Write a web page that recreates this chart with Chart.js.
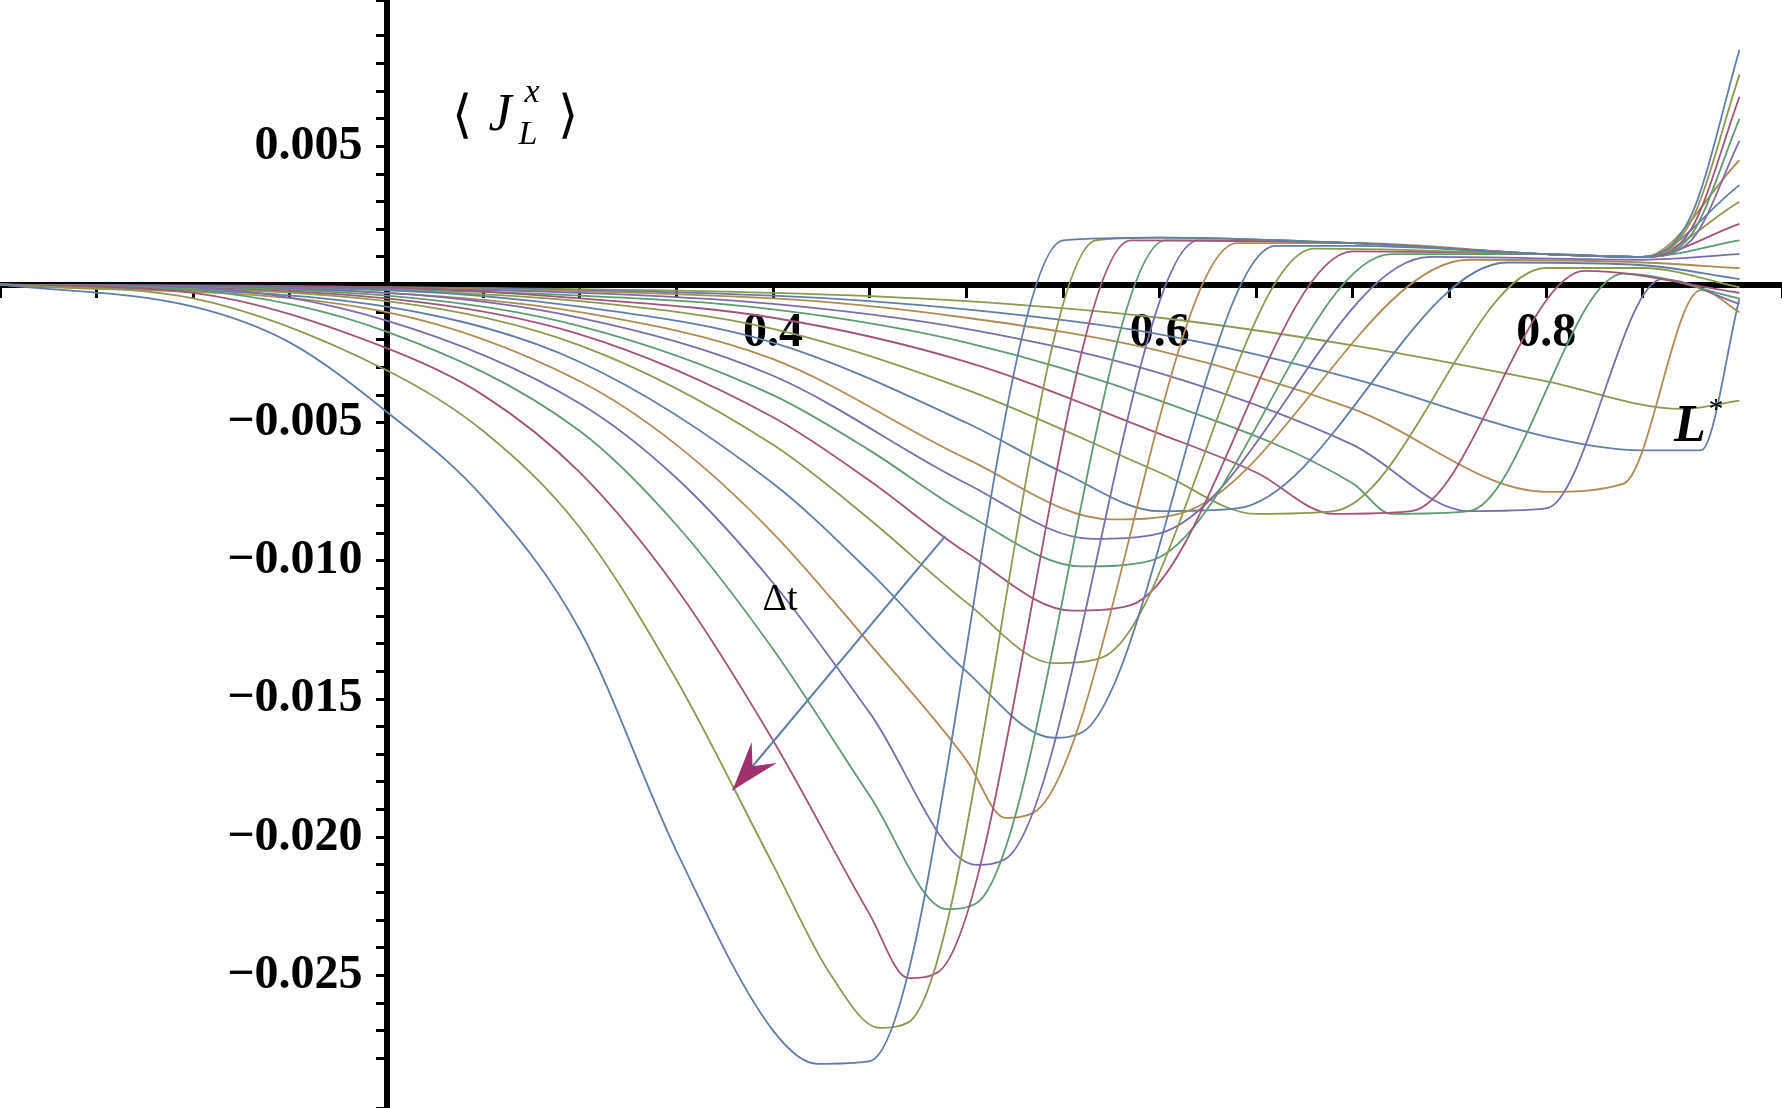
<!DOCTYPE html>
<html>
<head>
<meta charset="utf-8">
<script src="https://cdn.jsdelivr.net/npm/chart.js@4"></script>
<style>
  html, body { margin: 0; padding: 0; background: #fff; }
  #wrap { width: 1782px; height: 1108px; }
</style>
</head>
<body>
<div id="wrap"><canvas id="myChart"></canvas></div>
<script>
// one curve per time step, [L*, <J_L^x>] pairs
const curve0 = [[0,0],[0.1,-0.0008],[0.15,-0.0021],[0.2,-0.0046],[0.25,-0.0077],[0.3,-0.0125],[0.35,-0.0205],[0.4,-0.0270],[0.423,-0.0282],[0.45,-0.0281],[0.55,0.0016],[0.6,0.0017],[0.7,0.0015],[0.8,0.0011],[0.85,0.0010],[0.875,0.0025],[0.9,0.0085]];
const curve1 = [[0,0],[0.1,-0.0005],[0.2,-0.0031],[0.25,-0.0053],[0.3,-0.0088],[0.35,-0.0143],[0.4,-0.0210],[0.43,-0.0250],[0.455,-0.0269],[0.47,-0.0267],[0.567,0.0016],[0.6,0.0017],[0.7,0.0015],[0.8,0.0011],[0.85,0.0010],[0.875,0.0023],[0.9,0.0076]];
const curve2 = [[0,0],[0.1,-0.0003],[0.2,-0.0023],[0.25,-0.0040],[0.3,-0.0068],[0.35,-0.0110],[0.4,-0.0165],[0.45,-0.0228],[0.47,-0.0251],[0.485,-0.0249],[0.585,0.0016],[0.7,0.0015],[0.8,0.0011],[0.85,0.0010],[0.875,0.0020],[0.9,0.0068]];
const curve3 = [[0,0],[0.1,-0.0002],[0.2,-0.0017],[0.3,-0.0053],[0.35,-0.0087],[0.4,-0.0132],[0.45,-0.0185],[0.49,-0.0226],[0.505,-0.0224],[0.603,0.0016],[0.7,0.0015],[0.8,0.0011],[0.85,0.0010],[0.875,0.0018],[0.9,0.0060]];
const curve4 = [[0,0],[0.1,-0.0001],[0.2,-0.0013],[0.3,-0.0043],[0.35,-0.0070],[0.4,-0.0108],[0.45,-0.0155],[0.505,-0.0210],[0.52,-0.0208],[0.62,0.0016],[0.7,0.0015],[0.8,0.0011],[0.85,0.0010],[0.875,0.0016],[0.9,0.0052]];
const curve5 = [[0,0],[0.2,-0.0010],[0.3,-0.0035],[0.35,-0.0058],[0.4,-0.0090],[0.45,-0.0130],[0.5,-0.0172],[0.52,-0.0193],[0.535,-0.0191],[0.64,0.0015],[0.7,0.0015],[0.8,0.0011],[0.85,0.0010],[0.9,0.0045]];
const curve6 = [[0,0],[0.2,-0.0008],[0.3,-0.0028],[0.4,-0.0072],[0.45,-0.0104],[0.5,-0.0140],[0.545,-0.0164],[0.56,-0.0162],[0.66,0.0014],[0.7,0.0014],[0.8,0.0011],[0.85,0.0010],[0.9,0.0036]];
const curve7 = [[0,0],[0.2,-0.0006],[0.3,-0.0022],[0.4,-0.0058],[0.45,-0.0085],[0.5,-0.0115],[0.545,-0.0137],[0.57,-0.0135],[0.68,0.0013],[0.8,0.0011],[0.85,0.0010],[0.9,0.0030]];
const curve8 = [[0,0],[0.2,-0.0005],[0.3,-0.0018],[0.4,-0.0048],[0.45,-0.0071],[0.5,-0.0097],[0.555,-0.0118],[0.585,-0.0116],[0.70,0.0012],[0.8,0.0011],[0.85,0.0010],[0.9,0.0022]];
const curve9 = [[0,0],[0.2,-0.0004],[0.3,-0.0015],[0.4,-0.0040],[0.45,-0.0060],[0.5,-0.0083],[0.56,-0.0102],[0.595,-0.0100],[0.72,0.0011],[0.8,0.0011],[0.85,0.0010],[0.9,0.0016]];
const curve10 = [[0,0],[0.2,-0.0003],[0.3,-0.0012],[0.4,-0.0033],[0.5,-0.0072],[0.565,-0.0092],[0.6,-0.0090],[0.74,0.0010],[0.85,0.0009],[0.9,0.0011]];
const curve11 = [[0,0],[0.2,-0.0003],[0.3,-0.0010],[0.4,-0.0027],[0.5,-0.0063],[0.575,-0.0085],[0.61,-0.0083],[0.76,0.0009],[0.85,0.0008],[0.9,0.0006]];
const curve12 = [[0,0],[0.2,-0.0002],[0.3,-0.0008],[0.4,-0.0021],[0.5,-0.0050],[0.55,-0.0068],[0.6,-0.0082],[0.64,-0.0081],[0.78,0.0008],[0.85,0.0007],[0.9,0.0002]];
const curve13 = [[0,0],[0.2,-0.0002],[0.3,-0.0006],[0.4,-0.0016],[0.5,-0.0038],[0.6,-0.0068],[0.65,-0.0083],[0.69,-0.0082],[0.80,0.0006],[0.85,0.0006],[0.9,-0.0001]];
const curve14 = [[0,0],[0.2,-0.0001],[0.3,-0.0005],[0.4,-0.0012],[0.5,-0.0028],[0.6,-0.0054],[0.65,-0.0068],[0.69,-0.0083],[0.73,-0.0082],[0.82,0.0005],[0.9,-0.0003]];
const curve15 = [[0,0],[0.3,-0.0004],[0.4,-0.0009],[0.5,-0.0021],[0.6,-0.0042],[0.7,-0.0072],[0.72,-0.0083],[0.76,-0.0082],[0.84,0.0004],[0.9,-0.0005]];
const curve16 = [[0,0],[0.3,-0.0003],[0.4,-0.0007],[0.5,-0.0016],[0.6,-0.0032],[0.7,-0.0058],[0.76,-0.0082],[0.8,-0.0081],[0.86,0.0002],[0.9,-0.0007]];
const curve17 = [[0,0],[0.4,-0.0005],[0.5,-0.0012],[0.6,-0.0024],[0.7,-0.0045],[0.8,-0.0075],[0.84,-0.0072],[0.88,-0.0002],[0.9,-0.0010]];
const curve18 = [[0,0],[0.4,-0.0004],[0.5,-0.0009],[0.6,-0.0018],[0.7,-0.0034],[0.8,-0.0055],[0.85,-0.0060],[0.88,-0.0060],[0.9,-0.0005]];
const curve19 = [[0,0],[0.4,-0.0003],[0.5,-0.0006],[0.6,-0.0012],[0.7,-0.0022],[0.8,-0.0035],[0.87,-0.0045],[0.9,-0.0042]];

const curves = [curve0, curve1, curve2, curve3, curve4, curve5, curve6, curve7, curve8, curve9,
  curve10, curve11, curve12, curve13, curve14, curve15, curve16, curve17, curve18, curve19];

const xLabels = [0.4, 0.6, 0.8];
const yLabels = [0.005, -0.005, -0.010, -0.015, -0.020, -0.025];

// arrow marked Δt: tail and head in data units
const arrowTail = [0.489, -0.0091];
const arrowHead = [0.379, -0.0183];

const colors = ["#5f7fa8", "#8c9a50", "#a2557a", "#5e9c70", "#7c6cae", "#b08c52"];

const datasets = curves.map(function (c, i) {
  return {
    data: c.map(function (p) { return { x: p[0], y: p[1] }; }),
    borderColor: colors[i % colors.length],
    borderWidth: 1.8,
    pointRadius: 0,
    showLine: true,
    cubicInterpolationMode: "monotone",
    fill: false
  };
});

const labelFont = { family: "Liberation Serif", size: 48, weight: "bold" };

const annot = {
  id: "annot",
  afterDatasetsDraw(chart) {
    const ctx = chart.ctx;
    const xs = chart.scales.x, ys = chart.scales.y;
    const tx = xs.getPixelForValue(arrowTail[0]), ty = ys.getPixelForValue(arrowTail[1]);
    const hx = xs.getPixelForValue(arrowHead[0]), hy = ys.getPixelForValue(arrowHead[1]);
    ctx.save();
    ctx.strokeStyle = "#5f7fa8";
    ctx.lineWidth = 2;
    ctx.beginPath();
    ctx.moveTo(tx, ty);
    ctx.lineTo(hx, hy);
    ctx.stroke();
    // arrow head
    const a = Math.atan2(hy - ty, hx - tx);
    const len = 52, w = 0.32;
    ctx.fillStyle = "#a2306e";
    ctx.beginPath();
    ctx.moveTo(hx, hy);
    ctx.lineTo(hx - len * Math.cos(a - w), hy - len * Math.sin(a - w));
    ctx.lineTo(hx - len * 0.6 * Math.cos(a), hy - len * 0.6 * Math.sin(a));
    ctx.lineTo(hx - len * Math.cos(a + w), hy - len * Math.sin(a + w));
    ctx.closePath();
    ctx.fill();

    ctx.fillStyle = "#000";
    ctx.textAlign = "center";
    ctx.textBaseline = "middle";
    ctx.font = "38px 'Liberation Serif'";
    ctx.fillText("\u0394t", 780, 600);

    ctx.font = "italic bold 52px 'Liberation Serif'";
    ctx.fillText("L", 1690, 428);
    ctx.font = "30px 'Liberation Serif'";
    ctx.fillText("*", 1716, 410);

    ctx.font = "52px 'Liberation Serif'";
    ctx.fillText("\u27E8", 462, 118);
    ctx.fillText("\u27E9", 568, 118);
    ctx.font = "italic 52px 'Liberation Serif'";
    ctx.fillText("J", 500, 116);
    ctx.font = "italic 34px 'Liberation Serif'";
    ctx.fillText("x", 532, 93);
    ctx.fillText("L", 528, 135);
    ctx.restore();
  }
};

const ctx = document.getElementById("myChart").getContext("2d");
const myChart = new Chart(ctx, {
  type: "scatter",
  data: { datasets: datasets },
  plugins: [annot],
  options: {
    responsive: true,
    maintainAspectRatio: false,
    animation: false,
    layout: { padding: 0 },
    plugins: { legend: { display: false }, tooltip: { enabled: false } },
    scales: {
      x: {
        type: "linear",
        min: 0,
        max: 0.922,
        position: { y: 0 },
        afterFit: function (s) { s.height = 0; s.paddingLeft = 0; s.paddingRight = 0; },
        border: { color: "#000", width: 6 },
        grid: { drawOnChartArea: false, drawTicks: true, tickLength: 10, color: "#000", lineWidth: 3 },
        ticks: {
          stepSize: 0.05,
          autoSkip: false,
          maxRotation: 0,
          color: "#000",
          font: labelFont,
          padding: 10,
          callback: function (v) {
            const r = Math.round(v * 100) / 100;
            return xLabels.indexOf(r) >= 0 ? r.toFixed(1) : "";
          }
        }
      },
      y: {
        type: "linear",
        min: -0.0298,
        max: 0.0103,
        position: { x: 0.2 },
        afterFit: function (s) { s.width = 0; s.paddingTop = 0; s.paddingBottom = 0; },
        border: { color: "#000", width: 6 },
        grid: { drawOnChartArea: false, drawTicks: true, tickLength: 8, color: "#000", lineWidth: 3 },
        ticks: {
          stepSize: 0.001,
          autoSkip: false,
          maxTicksLimit: 100,
          color: "#000",
          font: labelFont,
          callback: function (v) {
            const r = Math.round(v * 1000) / 1000;
            if (yLabels.indexOf(r) < 0) return "";
            return (r < 0 ? "\u2212" : "") + Math.abs(r).toFixed(3) + "  ";
          }
        }
      }
    }
  }
});
</script>
</body>
</html>
